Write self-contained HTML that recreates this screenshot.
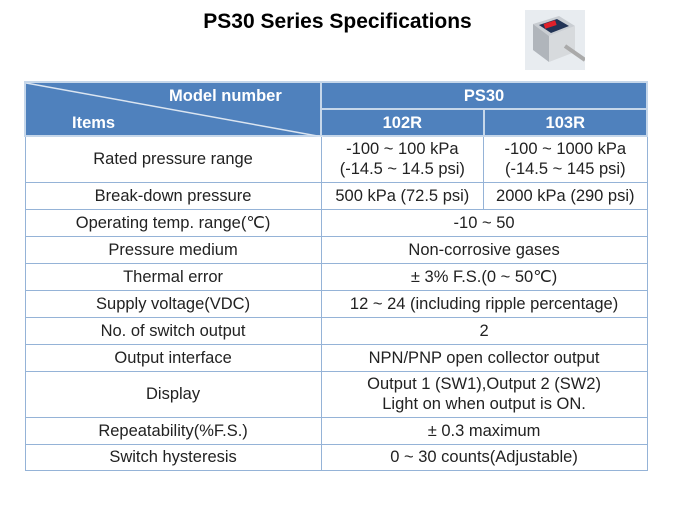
<!DOCTYPE html>
<html><head><meta charset="utf-8"><style>
body{margin:0;width:675px;height:506px;background:#fff;position:relative;overflow:hidden;font-family:"Liberation Sans",sans-serif}
#title{position:absolute;left:0;width:675px;top:10px;text-align:center;font-weight:bold;font-size:21px;color:#000}
#prod{position:absolute;left:525px;top:10px;width:60px;height:60px}
table{position:absolute;left:24px;top:81px;border-collapse:collapse;width:624px}
td{border:1px solid #95b3d7;text-align:center;font-size:16.5px;color:#222;padding:0;line-height:20px}
td.h{background:#4f81bd;color:#fff;font-weight:bold;border-color:#c6d7ea;border-width:2px}
</style></head><body>
<div id="title">PS30 Series Specifications</div>
<svg id="prod" viewBox="0 0 60 60">
<rect width="60" height="60" fill="#e8ecf0"/>
<polygon points="8,14 34,6 50,16 24,26" fill="#c9cdd2"/>
<polygon points="8,14 24,26 24,52 8,40" fill="#b0b5bb"/>
<polygon points="24,26 50,16 50,42 24,52" fill="#d7dadd"/>
<polygon points="14,15 32,9 44,16 26,23" fill="#223355"/>
<rect x="19" y="12" width="12" height="5" fill="#e0202a" transform="rotate(-18 25 14)"/>
<path d="M40 36 L60 50" stroke="#aaa" stroke-width="4"/>
</svg>
<table>
<colgroup><col style="width:297px"><col style="width:163px"><col style="width:164px"></colgroup>
<tr style="height:27px"><td class="h" rowspan="2" style="position:relative;text-align:left">
<svg style="position:absolute;left:0;top:0" width="297" height="54"><line x1="0" y1="0" x2="297" y2="54" stroke="#dbe5f1" stroke-width="1.5"/></svg>
<div style="position:absolute;left:143px;top:3px">Model number</div>
<div style="position:absolute;left:46px;top:30px">Items</div></td>
<td class="h" colspan="2">PS30</td></tr>
<tr style="height:27px"><td class="h">102R</td><td class="h">103R</td></tr>
<tr style="height:46px"><td>Rated pressure range</td><td>-100 ~ 100 kPa<br>(-14.5 ~ 14.5 psi)</td><td>-100 ~ 1000 kPa<br>(-14.5 ~ 145 psi)</td></tr>
<tr style="height:27px"><td>Break-down pressure</td><td>500 kPa (72.5 psi)</td><td>2000 kPa (290 psi)</td></tr>
<tr style="height:27px"><td>Operating temp. range(℃)</td><td colspan="2">-10 ~ 50</td></tr>
<tr style="height:27px"><td>Pressure medium</td><td colspan="2">Non-corrosive gases</td></tr>
<tr style="height:27px"><td>Thermal error</td><td colspan="2">± 3% F.S.(0 ~ 50℃)</td></tr>
<tr style="height:27px"><td>Supply voltage(VDC)</td><td colspan="2">12 ~ 24 (including ripple percentage)</td></tr>
<tr style="height:27px"><td>No. of switch output</td><td colspan="2">2</td></tr>
<tr style="height:27px"><td>Output interface</td><td colspan="2">NPN/PNP open collector output</td></tr>
<tr style="height:46px"><td>Display</td><td colspan="2">Output 1 (SW1),Output 2 (SW2)<br>Light on when output is ON.</td></tr>
<tr style="height:27px"><td>Repeatability(%F.S.)</td><td colspan="2">± 0.3 maximum</td></tr>
<tr style="height:26px"><td>Switch hysteresis</td><td colspan="2">0 ~ 30 counts(Adjustable)</td></tr>
</table>
</body></html>
